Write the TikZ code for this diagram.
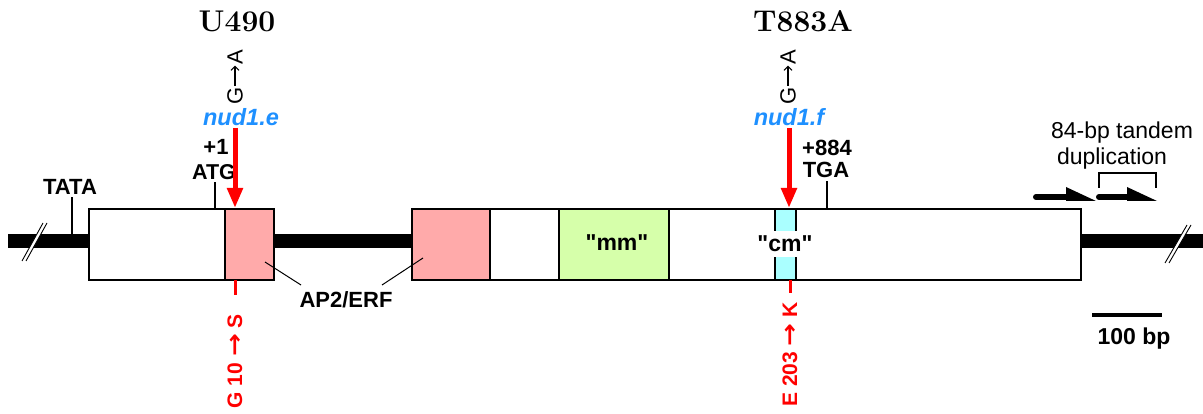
\documentclass[tikz,border=0pt]{standalone}
\usepackage{fontspec}
\usepackage{graphicx}
\newfontfamily\arial{Liberation Sans}
\newfontfamily\dejavu{DejaVu Sans}
\usetikzlibrary{arrows.meta}
\definecolor{pinkbox}{RGB}{255,170,170}
\definecolor{greenbox}{RGB}{214,255,170}
\definecolor{cyanbox}{RGB}{170,255,255}
\definecolor{nudblue}{RGB}{30,144,255}
\newcommand{\boldarr}{\scalebox{1.3}[1.1]{\dejavu\bfseries →}}
\begin{document}
\begin{tikzpicture}[x=1pt,y=-1pt,
  box/.style={draw=black,line width=1.8pt,inner sep=0pt,anchor=north west,minimum height=71pt},
  bar/.style={line width=14pt},
  tick/.style={line width=1.3pt},
  lbl/.style={font=\arial\bfseries\fontsize{22}{24}\selectfont,inner sep=0pt},
  plain/.style={font=\arial\fontsize{22}{24}\selectfont,inner sep=0pt},
  letter/.style={font=\arial\fontsize{22}{24}\selectfont,inner sep=0pt,rotate=90},
  ga/.style={line width=1.1pt,-{Straight Barb[length=4pt,width=8pt]},shorten <=1pt,shorten >=1pt},
  nud/.style={font=\arial\bfseries\itshape\fontsize{23.5}{24}\selectfont,text=nudblue,inner sep=0pt},
  aa/.style={font=\arial\bfseries\fontsize{21}{24}\selectfont,text=red,inner sep=0pt,rotate=90,anchor=east},
  title/.style={font=\bfseries\fontsize{30}{34}\selectfont,inner sep=0pt},
  mut/.style={red,line width=5pt,-{Triangle[length=20pt,width=15pt]}},
  redtick/.style={red,line width=3pt},
  brk/.style={line width=0.9pt}]
\fill[white] (0,0) rectangle (1203,414);
\useasboundingbox (0,0) rectangle (1203,414);

% boxes
\node[box,fill=white,minimum width=136pt] (b1) at (88,208) {};
\node[box,fill=pinkbox,minimum width=49pt] (p1) at (224,208) {};
\node[box,fill=white,minimum width=669pt] (b2) at (411,208) {};
\node[box,fill=pinkbox,minimum width=78pt] (p2) at (411,208) {};
\node[box,fill=greenbox,minimum width=110pt] (mm) at (558,208) {};
\node[box,fill=cyanbox,minimum width=21pt] (cmb) at (774,208) {};

% backbone
\coordinate (lend) at (8,241);
\coordinate (rend) at (1203,241);
\draw[bar] (lend) -- (lend -| b1.west);
\draw[bar] (lend -| p1.east) -- (lend -| b2.west);
\draw[bar] (lend -| b2.east) -- (rend);

% breaks
\fill[white] (22,261) -- (43,223) -- (47,223) -- (26,261) -- cycle;
\draw[brk] (22,261) -- (43,223) (26,261) -- (47,223);
\fill[white] (1165,263) -- (1187,225) -- (1191,225) -- (1169,263) -- cycle;
\draw[brk] (1165,263) -- (1187,225) (1169,263) -- (1191,225);

% box texts
\node[lbl,font=\arial\bfseries\fontsize{23}{24}\selectfont] (mmt) at (617,243) {"mm"};
\node[lbl,font=\arial\bfseries\fontsize{23}{24}\selectfont,fill=white,inner xsep=2pt,inner ysep=5pt] (cmt) at (785,244) {"cm"};

% TATA
\node[lbl,anchor=base] (tata) at (70,195) {TATA};
\coordinate (tatab) at (72,234);
\draw[tick] (tata.south -| tatab) ++(0,2) -- (tatab);

% ATG
\node[lbl] (plus1) at (216,147) {+1};
\node[lbl,anchor=base,font=\arial\bfseries\fontsize{21.5}{24}\selectfont] (atg) at (214,180) {ATG};
\coordinate (atgb) at (215,208);
\draw[tick] (atgb |- atg.south) ++(0,2) -- (atgb);

% TGA
\node[lbl] (plus884) at (827,148) {+884};
\node[lbl,anchor=base] (tga) at (826,178) {TGA};
\coordinate (tgab) at (827,208);
\draw[tick] (tgab |- tga.south) ++(0,3) -- (tgab);

% titles
\node[title] (u490) at (237,21) {U490};
\node[title] (t883) at (803,21) {T883A};

% mutation e
\node[letter] (ge) at (235,96) {G};
\node[letter] (ae) at (235,57) {A};
\draw[ga] (ge) -- (ae);
\node[nud,anchor=base] (nude) at (241,126) {nud1.e};
\coordinate (mute) at (235,128);
\coordinate (mute2) at (235,208);
\draw[mut] (mute) -- (mute2);
\coordinate (te1) at (235,280);
\coordinate (te2) at (235,295);
\draw[redtick] (te1) -- (te2);
\node[aa] (g10) at (235,314) {G 10 \boldarr\ S};

% mutation f
\node[letter] (gf) at (788,96) {G};
\node[letter] (af) at (788,57) {A};
\draw[ga] (gf) -- (af);
\node[nud,anchor=base] (nudf) at (789,126) {nud1.f};
\coordinate (mutf) at (789,128);
\coordinate (mutf2) at (789,208);
\draw[mut] (mutf) -- (mutf2);
\coordinate (tf1) at (790,280);
\coordinate (tf2) at (790,293);
\draw[redtick] (tf1) -- (tf2);
\node[aa] (e203) at (790,302) {E 203 \boldarr\ K};

% AP2/ERF
\node[lbl] (ap2) at (346,300) {AP2/ERF};
\coordinate (ap2a) at (265,262);
\coordinate (ap2b) at (301,285);
\coordinate (ap2c) at (382,285);
\coordinate (ap2d) at (423,258);
\draw[tick,line width=1pt] (ap2a) -- (ap2b);
\draw[tick,line width=1pt] (ap2c) -- (ap2d);

% tandem duplication
\node[plain,font=\arial\fontsize{23}{24}\selectfont] (dup1) at (1122,133) {84-bp tandem};
\node[plain,font=\arial\fontsize{23}{24}\selectfont,anchor=base] (dup2) at (1112,165) {duplication};
\draw[line width=1.5pt] (1099,188) -- (1099,173) -- (1156,173) -- (1156,188);
\draw[line width=6pt,line cap=round] (1036,197) -- (1070,197);
\fill (1066,187) -- (1096,201) -- (1066,201) -- cycle;
\draw[line width=6pt,line cap=round] (1099,197) -- (1130,197);
\fill (1127,187) -- (1157,201) -- (1127,201) -- cycle;

% scale bar
\coordinate (sb1) at (1092,315);
\coordinate (sb2) at (1162,315);
\draw[line width=4pt] (sb1) -- (sb2);
\node[lbl,font=\arial\bfseries\fontsize{23}{24}\selectfont] (sbt) at (1134,339) {100 bp};
\end{tikzpicture}
\end{document}
